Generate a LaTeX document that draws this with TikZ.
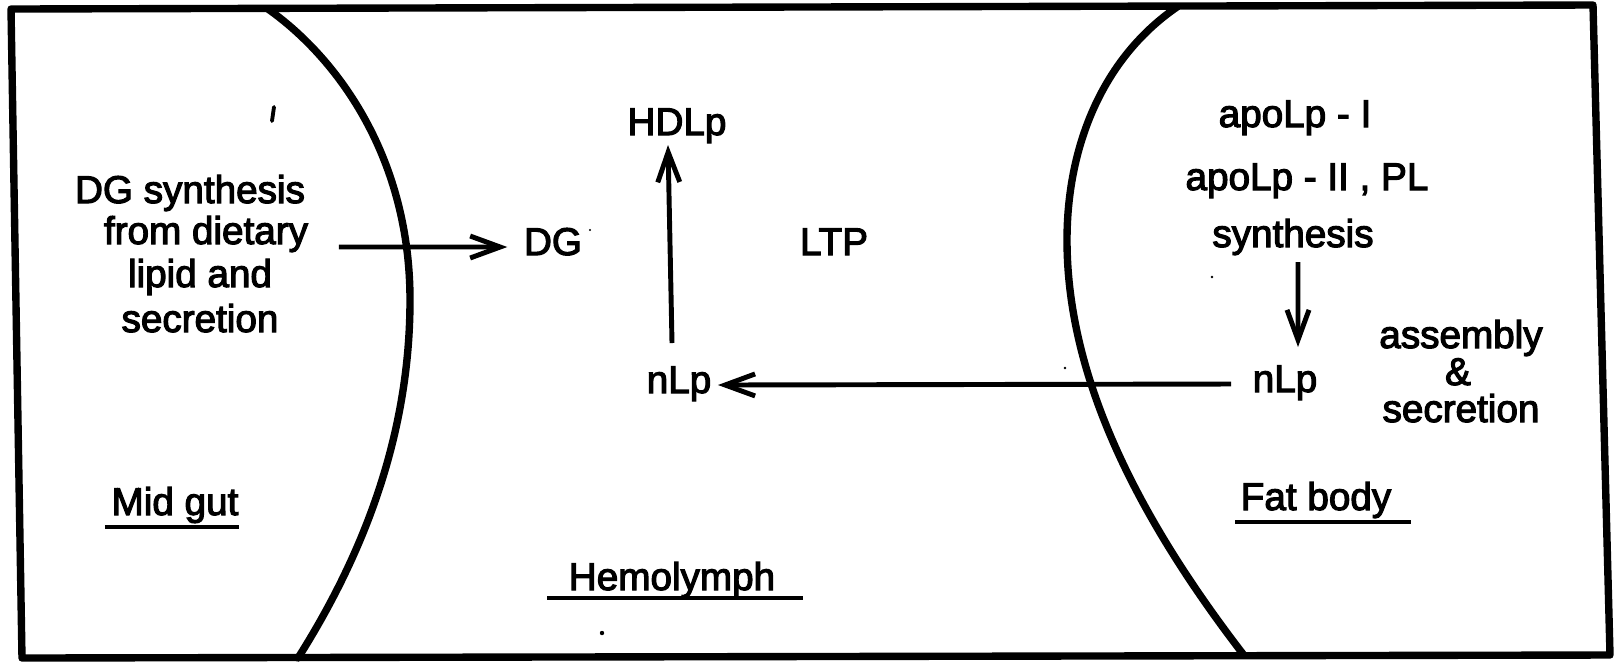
\documentclass[tikz,border=0pt]{standalone}
\usepackage{fontspec}
\setmainfont{Liberation Sans}[BoldFont={Liberation Sans},BoldFeatures={FakeBold=3}]
\usetikzlibrary{arrows.meta}
\begin{document}
\begin{tikzpicture}[x=0.1mm,y=-0.1mm,
  txt/.style={inner sep=0pt,anchor=base,font=\fontsize{11}{13}\selectfont\bfseries},
  wall/.style={line width=2.1pt,line join=round,line cap=round},
  arr/.style={line width=1.4pt,-{Straight Barb[length=3mm,width=2.2mm,line width=1.4pt]}},
  uline/.style={line width=1.4pt},
  speck/.style={fill=black}]
\useasboundingbox (0,0) rectangle (1615,662);
% frame
\draw[wall] (11,9) -- (1593,5) -- (1610,655) -- (22,658) -- cycle;
% mid gut wall
\draw[wall] (268,9) .. controls (340,60) and (410,160) .. (410,300)
            .. controls (410,440) and (360,560) .. (298,658);
% fat body wall
\draw[wall] (1177,7) .. controls (1100,60) and (1067,150) .. (1067,240)
            .. controls (1067,380) and (1140,520) .. (1243,654);

% mid gut texts
\node[txt] (m1) at (190,203) {DG synthesis};
\node[txt] (m2) at (206,244) {from dietary};
\node[txt] (m3) at (200,287) {lipid and};
\node[txt] (m4) at (200,332) {secretion};
\node[txt] (mg) at (175,515) {Mid gut};
\draw[uline] ([xshift=-0.6mm,yshift=-1.2mm]mg.base west) -- ([xshift=0mm,yshift=-1.2mm]mg.base east);

% hemolymph texts
\node[txt] (dg) at (553,255) {DG};
\node[txt] (ltp) at (834,255) {LTP};
\node[txt] (hdlp) at (677,135) {HDLp};
\node[txt] (nlp1) at (679,393) {nLp};
\node[txt] (hl) at (672,590) {Hemolymph};
\draw[uline] ([xshift=-2.1mm,yshift=-0.8mm]hl.base west) -- ([xshift=2.7mm,yshift=-0.8mm]hl.base east);

% fat body texts
\node[txt] (fa1) at (1295,127) {apoLp - I};
\node[txt] (fa2) at (1307,190) {apoLp - II , PL};
\node[txt] (fa3) at (1293,247) {synthesis};
\node[txt] (nlp2) at (1285,392) {nLp};
\node[txt] (as1) at (1461,348) {assembly};
\node[txt] (as2) at (1458,385) {\&};
\node[txt] (as3) at (1461,422) {secretion};
\node[txt] (fb) at (1316,510) {Fat body};
\draw[uline] ([xshift=-0.5mm,yshift=-1.2mm]fb.base west) -- ([xshift=1.9mm,yshift=-1.2mm]fb.base east);

% connectors
\draw[arr] ([xshift=3mm,yshift=-0.3mm]m2.base east) -- ([xshift=-1.6mm,yshift=0.8mm]dg.base west);
\draw[arr] ([xshift=-0.7mm,yshift=5mm]nlp1.base) -- ([xshift=-0.9mm,yshift=-1mm]hdlp.base);
\draw[arr] ([xshift=-2.1mm,yshift=0.8mm]nlp2.base west) -- ([xshift=0.6mm,yshift=0.8mm]nlp1.base east);
\draw[arr] ([xshift=0.5mm,yshift=-1.5mm]fa3.base) -- ([xshift=1.3mm,yshift=4.5mm]nlp2.base);

% specks
\draw[line width=1.1pt,line cap=round] (274,107) -- (272,121);
\fill[speck] (602,633) circle (2.2);
\fill[speck] (590,230) circle (1.2);
\fill[speck] (1212,277) circle (1.3);
\fill[speck] (1065,368) circle (1.3);
\end{tikzpicture}
\end{document}
